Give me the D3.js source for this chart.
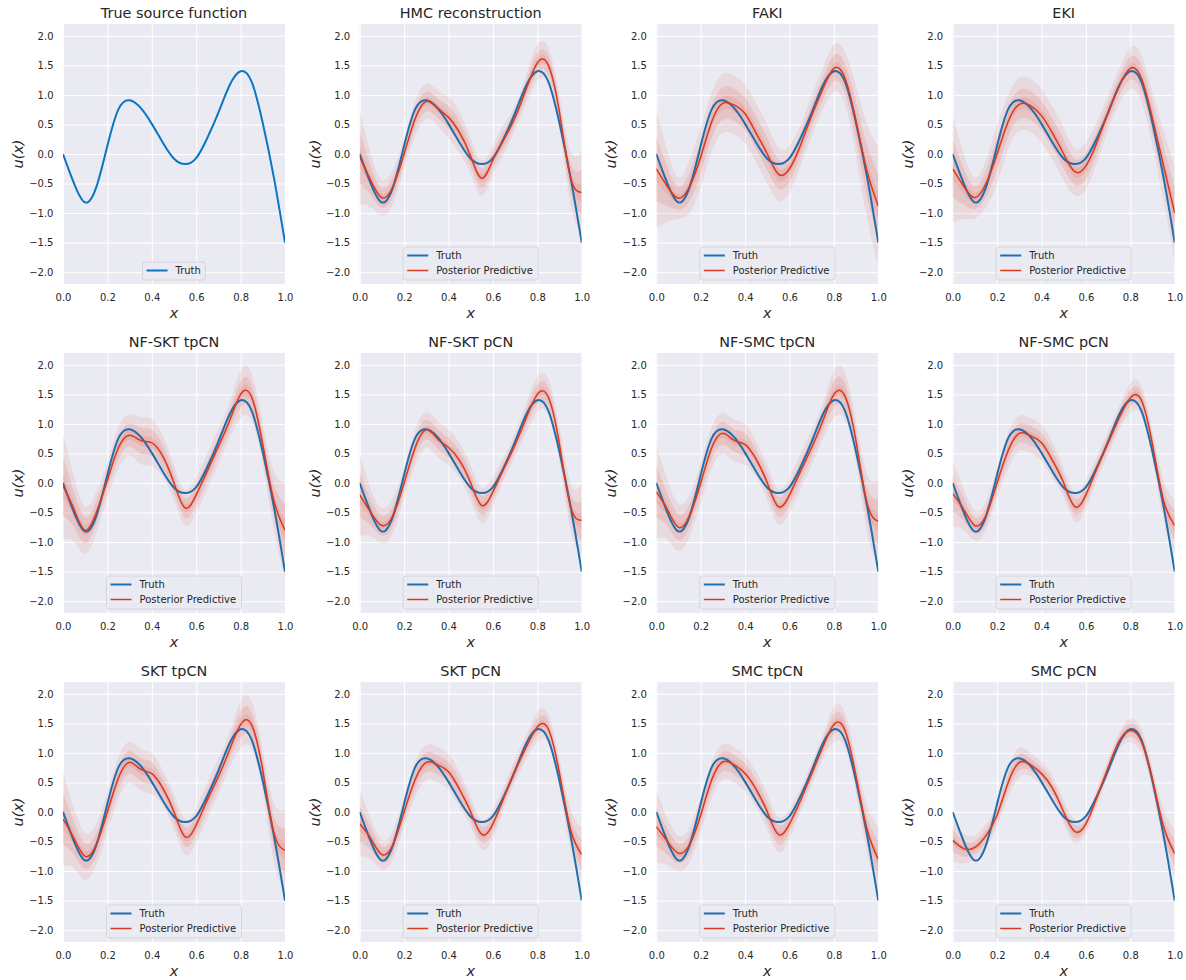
<!DOCTYPE html>
<html>
<head>
<meta charset="utf-8">
<script src="https://cdn.jsdelivr.net/npm/d3@7"></script>
<style>
  body { margin: 0; background: #fff; }
  text { font-family: "DejaVu Sans", sans-serif; fill: #262626; }
</style>
</head>
<body>
<svg id="chart"></svg>
<script>
const xGrid = [0, 0.05, 0.1, 0.15, 0.2, 0.25, 0.3, 0.35, 0.4, 0.45, 0.5, 0.55, 0.6, 0.65, 0.7, 0.75, 0.8, 0.85, 0.9, 0.95, 1.0];
const xTicks = [0, 0.2, 0.4, 0.6, 0.8, 1.0];
const yTicks = [-2, -1.5, -1, -0.5, 0, 0.5, 1, 1.5, 2];

const titles = ["True source function", "HMC reconstruction", "FAKI", "EKI",
  "NF-SKT tpCN", "NF-SKT pCN", "NF-SMC tpCN", "NF-SMC pCN",
  "SKT tpCN", "SKT pCN", "SMC tpCN", "SMC pCN"];

const truth = [0.00, -0.50, -0.82, -0.56, 0.14, 0.76, 0.91, 0.78, 0.51, 0.19, -0.08, -0.17, -0.07, 0.27, 0.70, 1.16, 1.40, 1.22, 0.52, -0.40, -1.50];

// posterior predictive mean per method (panels 2..12)
const postMean = [
  [-0.05, -0.45, -0.74, -0.55, 0.0, 0.6, 0.89, 0.78, 0.62, 0.36, -0.04, -0.41, -0.1, 0.25, 0.62, 1.1, 1.54, 1.5, 0.7, -0.4, -0.65],
  [-0.25, -0.55, -0.75, -0.55, -0.05, 0.55, 0.86, 0.83, 0.68, 0.35, 0.0, -0.34, -0.25, 0.15, 0.65, 1.1, 1.45, 1.28, 0.55, -0.3, -0.88],
  [-0.25, -0.55, -0.74, -0.5, 0.0, 0.55, 0.84, 0.82, 0.65, 0.35, 0.0, -0.3, -0.2, 0.2, 0.7, 1.15, 1.45, 1.28, 0.6, -0.2, -1.0],
  [-0.05, -0.45, -0.8, -0.5, 0.05, 0.6, 0.81, 0.72, 0.68, 0.45, 0.0, -0.42, -0.2, 0.2, 0.62, 1.05, 1.5, 1.45, 0.65, -0.3, -0.8],
  [-0.2, -0.5, -0.72, -0.55, 0.0, 0.6, 0.9, 0.75, 0.6, 0.38, 0.0, -0.38, -0.15, 0.25, 0.65, 1.1, 1.5, 1.45, 0.65, -0.4, -0.63],
  [-0.15, -0.45, -0.75, -0.55, 0.0, 0.6, 0.84, 0.72, 0.65, 0.4, 0.0, -0.4, -0.2, 0.2, 0.6, 1.05, 1.5, 1.47, 0.7, -0.35, -0.65],
  [-0.18, -0.45, -0.72, -0.55, 0.0, 0.55, 0.84, 0.8, 0.68, 0.38, 0.0, -0.4, -0.2, 0.25, 0.68, 1.1, 1.44, 1.4, 0.65, -0.3, -0.72],
  [-0.12, -0.45, -0.75, -0.55, 0.0, 0.58, 0.84, 0.72, 0.65, 0.4, 0.0, -0.42, -0.22, 0.2, 0.6, 1.05, 1.48, 1.47, 0.7, -0.35, -0.65],
  [-0.2, -0.45, -0.72, -0.55, 0.0, 0.55, 0.84, 0.8, 0.68, 0.38, 0.0, -0.38, -0.2, 0.25, 0.7, 1.1, 1.44, 1.4, 0.65, -0.3, -0.72],
  [-0.25, -0.5, -0.7, -0.55, -0.05, 0.55, 0.85, 0.8, 0.65, 0.38, 0.0, -0.38, -0.2, 0.2, 0.65, 1.1, 1.48, 1.38, 0.6, -0.3, -0.8],
  [-0.48, -0.62, -0.6, -0.4, -0.05, 0.5, 0.84, 0.8, 0.65, 0.4, 0.0, -0.33, -0.2, 0.25, 0.75, 1.2, 1.38, 1.2, 0.55, -0.25, -0.7]
];

// rough half-width of the cloud of posterior samples
const sampleSpread = [
  [0.8, 0.45, 0.3, 0.3, 0.25, 0.3, 0.3, 0.3, 0.35, 0.35, 0.3, 0.3, 0.25, 0.25, 0.2, 0.25, 0.3, 0.3, 0.3, 0.45, 0.7],
  [1.0, 0.6, 0.35, 0.45, 0.5, 0.5, 0.5, 0.5, 0.5, 0.5, 0.5, 0.45, 0.4, 0.35, 0.35, 0.35, 0.4, 0.45, 0.6, 0.8, 1.0],
  [0.9, 0.55, 0.35, 0.4, 0.5, 0.45, 0.45, 0.45, 0.45, 0.45, 0.45, 0.4, 0.4, 0.35, 0.3, 0.3, 0.35, 0.4, 0.45, 0.6, 0.8],
  [0.9, 0.55, 0.4, 0.35, 0.3, 0.35, 0.35, 0.4, 0.4, 0.35, 0.3, 0.3, 0.3, 0.3, 0.3, 0.3, 0.4, 0.4, 0.35, 0.5, 0.8],
  [0.7, 0.4, 0.3, 0.3, 0.25, 0.3, 0.3, 0.3, 0.3, 0.3, 0.3, 0.3, 0.25, 0.2, 0.2, 0.25, 0.3, 0.3, 0.3, 0.4, 0.6],
  [0.8, 0.5, 0.4, 0.35, 0.35, 0.35, 0.35, 0.35, 0.35, 0.3, 0.3, 0.3, 0.3, 0.3, 0.3, 0.3, 0.4, 0.4, 0.35, 0.5, 0.7],
  [0.55, 0.35, 0.25, 0.25, 0.25, 0.3, 0.3, 0.3, 0.3, 0.3, 0.25, 0.25, 0.25, 0.2, 0.2, 0.2, 0.25, 0.25, 0.25, 0.35, 0.45],
  [0.8, 0.5, 0.4, 0.35, 0.35, 0.35, 0.35, 0.35, 0.35, 0.3, 0.3, 0.3, 0.3, 0.3, 0.3, 0.3, 0.4, 0.4, 0.35, 0.5, 0.7],
  [0.55, 0.35, 0.25, 0.25, 0.25, 0.3, 0.3, 0.3, 0.3, 0.3, 0.25, 0.25, 0.25, 0.2, 0.2, 0.2, 0.25, 0.25, 0.25, 0.35, 0.45],
  [0.6, 0.4, 0.3, 0.3, 0.3, 0.3, 0.3, 0.3, 0.3, 0.3, 0.3, 0.3, 0.25, 0.2, 0.2, 0.2, 0.3, 0.3, 0.3, 0.4, 0.55],
  [0.35, 0.25, 0.2, 0.2, 0.2, 0.25, 0.25, 0.2, 0.2, 0.2, 0.2, 0.2, 0.15, 0.15, 0.15, 0.15, 0.2, 0.2, 0.2, 0.3, 0.4]
];

const width = 1186;
const height = 980;
const plotW = 222;
const plotH = 260;
const colLeft = [63, 359.7, 656.3, 952.7];
const rowTop = [24, 353, 682];

const truthFirst = "#0a76c2";
const truthColor = "#1f6fb0";
const postColor = "#d9391d";

const svg = d3.select("#chart").attr("width", width).attr("height", height);

const x = d3.scaleLinear().domain([0, 1]).range([0, plotW]);
const y = d3.scaleLinear().domain([-2.2, 2.2]).range([plotH, 0]);

const line = d3.line().x((d, i) => x(xGrid[i])).y(d => y(d)).curve(d3.curveNatural);

function drawPanel(idx) {
  const g = svg.append("g")
    .attr("transform", `translate(${colLeft[idx % 4]},${rowTop[Math.floor(idx / 4)]})`);

  g.append("rect").attr("width", plotW).attr("height", plotH).attr("fill", "#eaeaf2");

  g.append("defs").append("clipPath").attr("id", "clip" + idx)
    .append("rect").attr("width", plotW).attr("height", plotH);

  // grid via axes with long ticks
  g.append("g")
    .attr("transform", `translate(0,${plotH})`)
    .call(d3.axisBottom(x).tickValues(xTicks).tickFormat(d3.format(".1f")).tickSize(-plotH).tickPadding(10))
    .call(a => a.select(".domain").remove())
    .call(a => a.selectAll("line").attr("stroke", "#fff").attr("stroke-width", 1))
    .call(a => a.selectAll("text").attr("font-size", 10).attr("fill", "#262626"));

  g.append("g")
    .call(d3.axisLeft(y).tickValues(yTicks).tickFormat(d3.format(".1f")).tickSize(-plotW).tickPadding(9.5))
    .call(a => a.select(".domain").remove())
    .call(a => a.selectAll("line").attr("stroke", "#fff").attr("stroke-width", 1))
    .call(a => a.selectAll("text").attr("font-size", 10).attr("fill", "#262626"));

  const marks = g.append("g").attr("clip-path", `url(#clip${idx})`);

  if (idx > 0) {
    const m = postMean[idx - 1];
    const s = sampleSpread[idx - 1];
    const band = k => d3.area()
      .x((d, i) => x(xGrid[i]))
      .y0((d, i) => y(m[i] - k * s[i]))
      .y1((d, i) => y(m[i] + k * s[i]))
      .curve(d3.curveNatural);
    marks.append("path").datum(m).attr("d", band(1)).attr("fill", postColor).attr("fill-opacity", 0.09);
    marks.append("path").datum(m).attr("d", band(0.55)).attr("fill", postColor).attr("fill-opacity", 0.13);
    marks.append("path").datum(m).attr("d", band(0.22)).attr("fill", postColor).attr("fill-opacity", 0.12);
  }

  marks.append("path").datum(truth).attr("d", line)
    .attr("fill", "none").attr("stroke", idx === 0 ? truthFirst : truthColor).attr("stroke-width", 2);

  if (idx > 0) {
    marks.append("path").datum(postMean[idx - 1]).attr("d", line)
      .attr("fill", "none").attr("stroke", postColor).attr("stroke-width", 1.5);
  }

  // labels
  g.append("text").attr("x", plotW / 2).attr("y", -6).attr("text-anchor", "middle")
    .attr("font-size", 14.4).text(titles[idx]);
  g.append("text").attr("x", plotW / 2).attr("y", plotH + 33.5).attr("text-anchor", "middle")
    .attr("font-size", 14.4).attr("font-style", "italic").text("x");
  g.append("text").attr("transform", `translate(-40,${plotH / 2}) rotate(-90)`).attr("text-anchor", "middle")
    .attr("font-size", 14.4).attr("font-style", "italic").text("u(x)");

  drawLegend(g, idx);
}

function drawLegend(g, idx) {
  const entries = idx === 0
    ? [{ label: "Truth", color: truthFirst, w: 2 }]
    : [{ label: "Truth", color: truthColor, w: 2 }, { label: "Posterior Predictive", color: postColor, w: 1.5 }];
  const boxW = idx === 0 ? 63 : 135;
  const boxH = idx === 0 ? 18 : 33;
  const lg = g.append("g")
    .attr("transform", `translate(${(plotW - boxW) / 2},${plotH - 4 - boxH})`);
  lg.append("rect").attr("width", boxW).attr("height", boxH).attr("rx", 2.5)
    .attr("fill", "#eaeaf2").attr("fill-opacity", 0.8).attr("stroke", "#cfcfd6").attr("stroke-width", 0.8);
  entries.forEach((e, i) => {
    const cy = 8.5 + i * 15;
    lg.append("line").attr("x1", 4).attr("x2", 25).attr("y1", cy).attr("y2", cy)
      .attr("stroke", e.color).attr("stroke-width", e.w);
    lg.append("text").attr("x", 33).attr("y", cy + 3.6).attr("font-size", 10).text(e.label);
  });
}

titles.forEach((t, i) => drawPanel(i));
</script>
</body>
</html>
